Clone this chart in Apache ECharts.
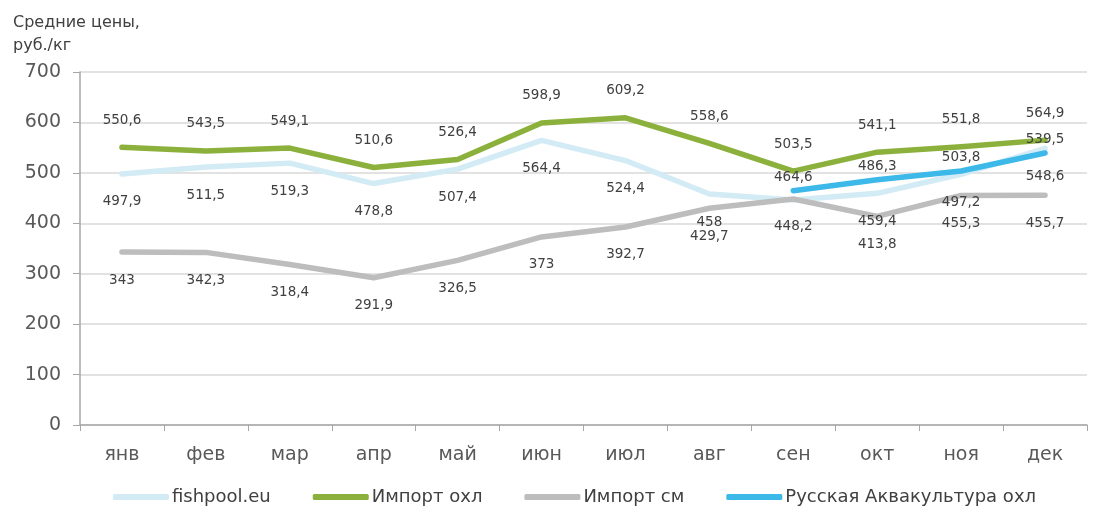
<!DOCTYPE html>
<html>
<head>
<meta charset="utf-8">
<script src="https://cdn.jsdelivr.net/npm/echarts@6/dist/echarts.min.js"></script>
<style>
  html, body { margin: 0; padding: 0; background: #fff; }
  #chart { width: 1097px; height: 513px; }
</style>
</head>
<body>
<div id="chart"></div>
<script>
const months = ['янв', 'фев', 'мар', 'апр', 'май', 'июн', 'июл', 'авг', 'сен', 'окт', 'ноя', 'дек']
const fishpool = [497.9, 511.5, 519.3, 478.8, 507.4, 564.4, 524.4, 458, 446, 459.4, 497.2, 548.6]
const importChilled = [550.6, 543.5, 549.1, 510.6, 526.4, 598.9, 609.2, 558.6, 503.5, 541.1, 551.8, 564.9]
const importFrozen = [343, 342.3, 318.4, 291.9, 326.5, 373, 392.7, 429.7, 448.2, 413.8, 455.3, 455.7]
const russianAqua = [null, null, null, null, null, null, null, null, 464.6, 486.3, 503.8, 539.5]
// label of fishpool for сен is not shown in the source
const hiddenLabels = { fishpool: [8] }

const font = 'DejaVu Sans'
const fmt = p => String(p.value).replace('.', ',')

function series(name, data, color, pos, dist, hidden) {
  return {
    name: name,
    type: 'line',
    data: data.map((v, i) => (hidden && hidden.indexOf(i) >= 0) ? { value: v, label: { show: false } } : v),
    showSymbol: true,
    symbol: 'circle',
    symbolSize: 0,
    lineStyle: { width: 5.5, color: color, cap: 'round', join: 'round' },
    itemStyle: { color: color },
    label: {
      show: true,
      position: pos,
      distance: dist,
      formatter: fmt,
      color: '#404040',
      fontFamily: font,
      fontSize: 13.5
    },
    labelLayout: { hideOverlap: false },
    emphasis: { disabled: true },
    animation: false
  }
}

const chart = echarts.init(document.getElementById('chart'))
chart.setOption({
  textStyle: { fontFamily: font },
  title: {
    text: 'Средние цены,\nруб./кг',
    left: 8,
    top: 6,
    textStyle: { fontFamily: font, fontSize: 16, fontWeight: 'normal', color: '#404040', lineHeight: 23 }
  },
  legend: {
    bottom: 2,
    left: 108,
    itemWidth: 56,
    itemHeight: 6,
    itemGap: 42,
    icon: 'roundRect',
    textStyle: { fontFamily: font, fontSize: 18, color: '#404040', padding: [0, 0, 0, -2] },
    data: ['fishpool.eu', 'Импорт охл', 'Импорт см', 'Русская Аквакультура охл']
  },
  grid: { left: 80, right: 10, top: 72, bottom: 88 },
  xAxis: {
    type: 'category',
    data: months,
    boundaryGap: true,
    axisLine: { lineStyle: { color: '#a6a6a6', width: 1.5 } },
    axisTick: { show: true, length: 6, lineStyle: { color: '#a6a6a6' } },
    axisLabel: { color: '#595959', fontSize: 19, fontFamily: font, margin: 21 }
  },
  yAxis: {
    type: 'value',
    min: 0,
    max: 700,
    interval: 100,
    axisLine: { show: true, lineStyle: { color: '#a6a6a6', width: 1.5 } },
    axisTick: { show: true, length: 7, lineStyle: { color: '#a6a6a6' } },
    axisLabel: { color: '#595959', fontSize: 19, fontFamily: font, margin: 19 },
    splitLine: { lineStyle: { color: '#d9d9d9', width: 1.5 } }
  },
  series: [
    series('fishpool.eu', fishpool, '#d3ebf5', 'bottom', 21, hiddenLabels.fishpool),
    series('Импорт охл', importChilled, '#8bb13c', 'top', 20),
    series('Импорт см', importFrozen, '#bdbdbd', 'bottom', 21),
    series('Русская Аквакультура охл', russianAqua, '#3cb8e9', 'top', 6)
  ]
})
</script>
</body>
</html>
